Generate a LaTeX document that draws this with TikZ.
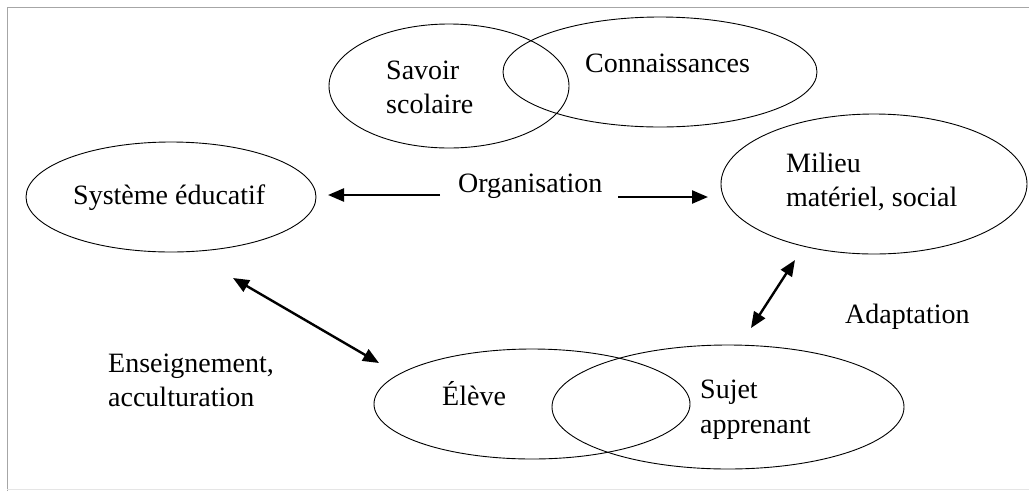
\documentclass[tikz,border=0pt]{standalone}
\usepackage{fontspec}
\setmainfont{Liberation Serif}
\usetikzlibrary{shapes.geometric,arrows.meta}
\begin{document}
\begin{tikzpicture}[x=1pt,y=-1pt,
  oval/.style={draw,ellipse,line width=0.9pt,inner sep=0pt},
  lbl/.style={anchor=base west,inner sep=0pt,font=\fontsize{28}{33}\selectfont},
  tipA/.style={line width=2.4pt,{Triangle[length=16pt,width=13pt]}-{Triangle[length=16pt,width=13pt]}},
  tipS/.style={line width=2.4pt,-{Triangle[length=16pt,width=13pt]}},
  frame/.style={draw=gray!70,line width=1pt}]
\useasboundingbox (0,0) rectangle (1029,491);
\fill[white] (0,0) rectangle (1029,491);
% frame
\coordinate (f1) at (7,491);
\coordinate (f2) at (7,7);
\coordinate (f3) at (1029,7);
\coordinate (f4) at (7,489);
\coordinate (f5) at (1029,489);
\draw[frame] (f1) -- (f2) -- (f3);
\draw[draw=gray!20,line width=0.8pt] (f4) -- (f5);
% ellipses
\node[oval,minimum width=240pt,minimum height=124pt] (sav) at (449,86) {};
\node[oval,minimum width=314pt,minimum height=110pt] (con) at (660,72) {};
\node[oval,minimum width=290pt,minimum height=110pt] (sys) at (171,197) {};
\node[oval,minimum width=306pt,minimum height=140pt] (mil) at (874,184) {};
\node[oval,minimum width=316pt,minimum height=110pt] (ele) at (532,404) {};
\node[oval,minimum width=352pt,minimum height=124pt] (suj) at (728,407) {};
% texts
\node[lbl] (t1) at (386,79) {Savoir};
\node[lbl] (t2) at (386,113) {scolaire};
\node[lbl] (t3) at (585,72) {Connaissances};
\node[lbl] (t4) at (73,204) {Système éducatif};
\node[lbl] (t5) at (458,192) {Organisation};
\node[lbl] (t6) at (786,172) {Milieu};
\node[lbl] (t7) at (786,206) {matériel, social};
\node[lbl] (t8) at (845,323) {Adaptation};
\node[lbl] (t9) at (108,372) {Enseignement,};
\node[lbl] (t10) at (108,406) {acculturation};
\node[lbl] (t11) at (442,405) {Élève};
\node[lbl] (t12) at (700,398) {Sujet};
\node[lbl] (t13) at (700,433) {apprenant};
% arrows
\coordinate (oL1) at (440,195);
\coordinate (oL2) at (328,195);
\coordinate (oR1) at (618,197);
\coordinate (oR2) at (708,197);
\coordinate (e1) at (233,278);
\coordinate (e2) at (379,363);
\coordinate (a1) at (795,260);
\coordinate (a2) at (751,328);
\draw[tipS] (oL1) -- (oL2);
\draw[tipS] (oR1) -- (oR2);
\draw[tipA] (e1) -- (e2);
\draw[tipA] (a1) -- (a2);
\end{tikzpicture}
\end{document}
